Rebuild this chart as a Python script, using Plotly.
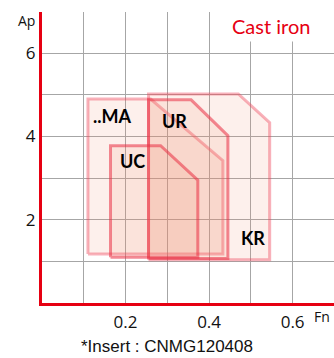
import plotly.graph_objects as go

# Cutting-range outlines (Fn = feed, Ap = depth of cut)
chipbreakers = ["..MA", "KR", "UR", "UC"]
fn_values = [
    [0.11, 0.11, 0.26, 0.433, 0.433, 0.11],
    [0.255, 0.255, 0.47, 0.545, 0.545, 0.255],
    [0.255, 0.255, 0.357, 0.445, 0.445, 0.255],
    [0.164, 0.164, 0.284, 0.373, 0.373, 0.164],
]
ap_values = [
    [1.18, 4.90, 4.90, 3.42, 1.18, 1.18],
    [1.04, 5.02, 5.02, 4.33, 1.04, 1.04],
    [1.07, 4.88, 4.88, 4.02, 1.07, 1.07],
    [1.10, 3.78, 3.78, 2.95, 1.10, 1.10],
]
line_colors = [
    "rgba(238,70,90,0.42)",
    "rgba(238,70,90,0.42)",
    "rgba(234,45,65,0.55)",
    "rgba(234,45,65,0.55)",
]
label_pos = {"..MA": (0.168, 4.5), "KR": (0.505, 1.55), "UR": (0.316, 4.36), "UC": (0.216, 3.4)}

x_ticks = [0.2, 0.4, 0.6]
y_ticks = [2, 4, 6]

RED = "#e60012"
GRID = "#a6a6a6"

fig = go.Figure()
for name, xs, ys, lc in zip(chipbreakers, fn_values, ap_values, line_colors):
    fig.add_trace(go.Scatter(
        x=xs, y=ys, mode="lines", fill="toself",
        fillcolor="rgba(240,140,110,0.13)",
        line=dict(color=lc, width=3),
        hoverinfo="skip", showlegend=False,
    ))

for name in chipbreakers:
    lx, ly = label_pos[name]
    fig.add_annotation(x=lx, y=ly, text=f"<b>{name}</b>", showarrow=False,
                       xanchor="center", yanchor="middle",
                       font=dict(family="Lato", size=18, color="black"))

# white backing behind the title
fig.add_shape(type="rect", xref="x", yref="y", x0=0.42, x1=0.7, y0=6.28, y1=7.0,
              fillcolor="white", line=dict(width=0), layer="between")

fig.update_layout(
    width=334, height=358,
    margin=dict(l=42, r=0, t=12, b=55),
    plot_bgcolor="white", paper_bgcolor="white",
    xaxis=dict(range=[0, 0.699], tickvals=x_ticks, ticktext=["0.2", "0.4", "0.6"],
               showgrid=True, gridcolor=GRID, gridwidth=1,
               minor=dict(dtick=0.1, tick0=0, showgrid=True, gridcolor=GRID, gridwidth=1),
               showline=True, linecolor=RED, linewidth=3, zeroline=False,
               ticks="", ticklabelstandoff=2,
               tickfont=dict(family="Open Sans", size=17, color="#111")),
    yaxis=dict(range=[0, 6.99], tickvals=y_ticks,
               showgrid=True, gridcolor=GRID, gridwidth=1,
               minor=dict(dtick=1, tick0=0, showgrid=True, gridcolor=GRID, gridwidth=1),
               showline=True, linecolor=RED, linewidth=3, zeroline=False,
               ticks="", tickfont=dict(family="Open Sans", size=17, color="#111")),
)

# pixel position -> paper fraction
def px(x, y):
    pw, ph = 334 - 42, 358 - 12 - 55
    return (x - 42) / pw, 1 - (y - 12) / ph

texts = [
    ("Cast iron", (271, 26), 20, "Lato", RED),
    ("Ap", (26, 20), 14, "Open Sans", "#111"),
    ("Fn", (322, 316), 14, "Open Sans", "#111"),
    ("*Insert : CNMG120408", (167, 346), 17, "Liberation Sans", "#111"),
]
for text, (x, y), size, fam, col in texts:
    u, v = px(x, y)
    fig.add_annotation(x=u, y=v, xref="paper", yref="paper", text=text, showarrow=False,
                       xanchor="center", yanchor="middle",
                       font=dict(family=fam, size=size, color=col))

fig.write_html("out.html")
